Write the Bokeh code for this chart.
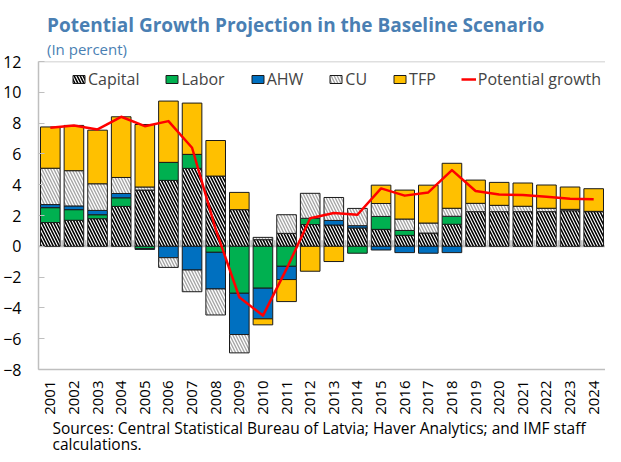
import numpy as np
from bokeh.plotting import figure
from bokeh.models import (ColumnDataSource, FixedTicker, Span, Title, Legend,
                          LegendItem, Range1d)
from bokeh.embed import file_html
from bokeh.resources import INLINE

years = list(range(2001, 2025))
capital = [1.54, 1.69, 1.79, 2.59, 3.65, 4.28, 5.06, 4.56, 2.38, 0.43, 0.84, 1.41,
           1.38, 1.19, 1.10, 0.71, 0.86, 1.43, 2.25, 2.25, 2.25, 2.25, 2.31, 2.25]
labor = [0.97, 0.69, 0.26, 0.56, -0.15, 1.17, 0.91, -0.39, -3.05, -2.72, -1.30, 0.41,
         0.0, -0.45, 0.84, 0.32, 0.0, 0.52, 0.0, 0.0, 0.0, 0.0, 0.0, 0.0]
ahw = [0.20, 0.24, 0.28, 0.28, -0.05, -0.74, -1.54, -2.38, -2.68, -1.99, -0.86, 0.0,
       0.30, 0.15, -0.24, -0.41, -0.45, -0.41, 0.0, 0.0, 0.0, 0.0, 0.0, 0.0]
cu = [2.36, 2.29, 1.73, 1.04, 0.20, -0.63, -1.41, -1.69, -1.19, 0.15, 1.21, 1.62,
      1.49, 1.12, 0.84, 0.74, 0.65, 0.52, 0.54, 0.41, 0.35, 0.22, 0.09, 0.02]
tfp = [2.68, 2.94, 3.48, 3.94, 4.06, 3.98, 3.33, 2.31, 1.12, -0.39, -1.43, -1.62,
       -0.99, 0.0, 1.19, 1.88, 2.46, 2.92, 1.51, 1.49, 1.51, 1.51, 1.45, 1.47]
potential = [7.70, 7.85, 7.59, 8.41, 7.80, 8.13, 6.40, 1.10, -3.31, -4.50, -1.47, 1.82,
             2.16, 2.05, 3.76, 3.29, 3.50, 4.95, 3.59, 3.37, 3.33, 3.22, 3.09, 3.05]
y_ticks = [-8, -6, -4, -2, 0, 2, 4, 6, 8, 10, 12]

title_text = "Potential Growth Projection in the Baseline Scenario"
subtitle_text = "(In percent)"
source_lines = ["Sources: Central Statistical Bureau of Latvia; Haver Analytics; and IMF staff",
                "calculations."]

FONT = "Open Sans"
TITLE_BLUE = "#4a7fb3"
GRAY = "#bfbfbf"

W, H = 605, 454
TOP, BOTTOM, LEFT = 61, 85, 37
FRAME_H = H - TOP - BOTTOM

p = figure(width=W, height=H, output_backend="svg", toolbar_location=None,
           x_range=Range1d(2000.5, 2024.5), y_range=Range1d(-8, 12),
           min_border_left=LEFT, min_border_right=0, min_border_top=TOP,
           min_border_bottom=BOTTOM)
p.outline_line_color = None
p.xgrid.visible = False
p.ygrid.visible = False
p.background_fill_color = "white"

series = [
    ("Capital", capital, dict(fill_color="white", hatch_pattern="left_diagonal_line",
                              hatch_color="black", hatch_weight=1.6, hatch_scale=6)),
    ("Labor", labor, dict(fill_color="#00b050")),
    ("AHW", ahw, dict(fill_color="#0070c0")),
    ("CU", cu, dict(fill_color="white", hatch_pattern="left_diagonal_line",
                    hatch_color="#a6a6a6", hatch_weight=1.4, hatch_scale=6)),
    ("TFP", tfp, dict(fill_color="#ffc000")),
]

p.add_layout(Span(location=0, dimension="width", line_color=GRAY, line_width=2,
                  level="underlay"))

x = np.array(years, dtype=float)
pos = np.zeros(len(years))
neg = np.zeros(len(years))
items = []
for name, vals, style in series:
    v = np.array(vals, dtype=float)
    bottom = np.where(v >= 0, pos, neg)
    top = bottom + v
    pos = np.where(v > 0, pos + v, pos)
    neg = np.where(v < 0, neg + v, neg)
    mask = v != 0
    src = ColumnDataSource(dict(x=x[mask], bottom=bottom[mask], top=top[mask]))
    r = p.vbar(x="x", bottom="bottom", top="top", width=0.83, source=src,
               line_color="#1a1a1a", line_width=1, **style)
    items.append(LegendItem(label=name, renderers=[r]))

# category separator ticks on the zero line
sep = x + 0.5
p.segment(x0=sep, y0=np.zeros(len(sep)), x1=sep, y1=np.full(len(sep), 0.4),
          line_color=GRAY, line_width=1.5)

lr = p.line(x, potential, line_color="#ff0000", line_width=2.5, line_join="round")
items.append(LegendItem(label="Potential growth", renderers=[lr]))

p.add_layout(Span(location=12, dimension="width", line_color=GRAY, line_width=1.5))

legend = Legend(items=items, orientation="horizontal", location=(33, FRAME_H - 29),
                padding=0, margin=0, spacing=25, glyph_width=15, glyph_height=10,
                label_height=22, label_standoff=2, label_text_font=FONT,
                label_text_font_size="16px",
                border_line_color=None, background_fill_alpha=0)
p.add_layout(legend)

p.yaxis.ticker = FixedTicker(ticks=y_ticks)
p.yaxis.axis_line_color = GRAY
p.yaxis.axis_line_width = 1.5
p.yaxis.major_tick_in = 6
p.yaxis.major_tick_out = 0
p.yaxis.minor_tick_in = 0
p.yaxis.minor_tick_out = 0
p.yaxis.major_tick_line_color = GRAY
p.yaxis.major_label_text_font = FONT
p.yaxis.major_label_text_font_size = "16px"
p.yaxis.major_label_text_color = "black"
p.yaxis.major_label_standoff = 17

p.xaxis.ticker = FixedTicker(ticks=years)
p.xaxis.axis_line_color = GRAY
p.xaxis.axis_line_width = 1.5
p.xaxis.major_tick_in = 0
p.xaxis.major_tick_out = 0
p.xaxis.minor_tick_in = 0
p.xaxis.minor_tick_out = 0
p.xaxis.major_label_orientation = np.pi / 2
p.xaxis.major_label_text_font = FONT
p.xaxis.major_label_text_font_size = "15px"
p.xaxis.major_label_text_color = "black"
p.xaxis.major_label_standoff = 11

p.add_layout(Title(text=subtitle_text, text_font=FONT, text_font_size="15px",
                   text_font_style="normal", text_color=TITLE_BLUE, align="left",
                   offset=8.5, standoff=5), "above")
p.add_layout(Title(text=title_text, text_font=FONT, text_font_size="19px",
                   text_font_style="bold", text_color=TITLE_BLUE, align="left",
                   offset=8.5, standoff=-7), "above")

p.add_layout(Title(text=source_lines[0], text_font=FONT, text_font_size="15.5px",
                   text_font_style="normal", text_color="black", align="left",
                   offset=14, standoff=-6), "below")
p.add_layout(Title(text=source_lines[1], text_font=FONT, text_font_size="15.5px",
                   text_font_style="normal", text_color="black", align="left",
                   offset=14, standoff=-10), "below")

open("out.html", "w").write(file_html(p, INLINE))
